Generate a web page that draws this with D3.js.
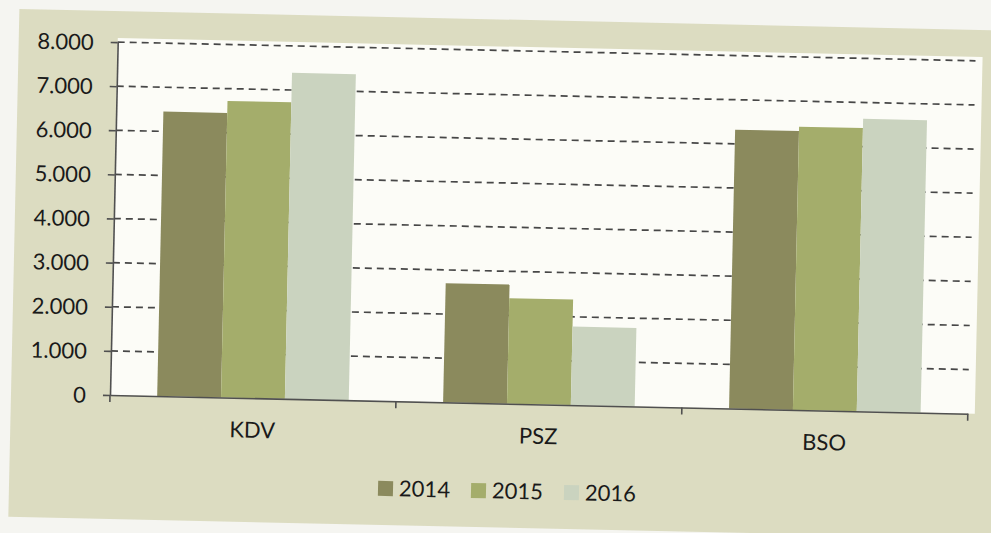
<!DOCTYPE html>
<html>
<head>
<meta charset="utf-8">
<script src="https://cdn.jsdelivr.net/npm/d3@7"></script>
<style>
  html, body { margin: 0; padding: 0; background: #f5f5f1; overflow: hidden; }
  svg { display: block; font-family: Lato, "Open Sans", sans-serif; }
</style>
</head>
<body>
<div class="graphHold"></div>
<script>
/*** DATA ***/
let categories = ['KDV', 'PSZ', 'BSO'];
let years = ['2014', '2015', '2016'];
let values2014 = [6450, 2700, 6320];
let values2015 = [6720, 2390, 6420];
let values2016 = [7390, 1780, 6630];
let yTicks = [0, 1000, 2000, 3000, 4000, 5000, 6000, 7000, 8000];
let colors = ['#8b8a5d', '#a4ad6b', '#cad3bf'];

let series = [values2014, values2015, values2016];

/*** GRAPH ***/
let width = 991,
    height = 533,
    x0 = 110,       /* axis origin */
    y0 = 395,
    plotW = 858,
    plotH = 353,
    tilt = 1.25;    /* the scan is slightly rotated */

let svg = d3.select('.graphHold').
append('svg').
attr('width', width).
attr('height', height);

let frame = svg.append('g').
attr('transform', 'rotate(' + tilt + ',' + x0 + ',' + y0 + ')');

/* beige panel and white plot area */
frame.append('rect').
attr('x', 11).attr('y', 11).
attr('width', 1020).attr('height', 508).
style('fill', '#dcdcc1');

frame.append('rect').
attr('x', x0).attr('y', y0 - plotH - 4).
attr('width', plotW + 7).attr('height', plotH + 4).
style('fill', '#fcfcf7');

/* scales */
let xScale = d3.scaleBand().
domain(categories).
range([x0, x0 + plotW]).
paddingInner(0.33).
paddingOuter(0.165);

let xSub = d3.scaleBand().
domain(years).
range([0, xScale.bandwidth()]);

let yScale = d3.scaleLinear().
domain([0, 8000]).
range([y0, y0 - plotH]);

let fmt = d3.formatLocale({decimal: ',', thousands: '.', grouping: [3], currency: ['', '']}).format(',d');

/* dashed gridlines */
frame.append('g').
selectAll('line').
data(yTicks.filter((d) => d > 0)).
enter().
append('line').
attr('x1', x0).
attr('x2', x0 + plotW).
attr('y1', (d) => yScale(d)).
attr('y2', (d) => yScale(d)).
style('stroke', '#474747').
style('stroke-width', 1.7).
style('stroke-dasharray', '7,5');

/* bars */
frame.append('g').
selectAll('g').
data(series).
enter().
append('g').
style('fill', (d, i) => colors[i]).
selectAll('rect').
data((d, i) => d.map((v, j) => ({cat: categories[j], year: years[i], value: v}))).
enter().
append('rect').
attr('x', (d) => xScale(d.cat) + xSub(d.year)).
attr('y', (d) => yScale(d.value)).
attr('width', xSub.bandwidth()).
attr('height', (d) => y0 - yScale(d.value));

/* Y axis */
let yAxis = d3.axisLeft(yScale).
tickValues(yTicks).
tickFormat(fmt).
tickSizeInner(7).
tickSizeOuter(0).
tickPadding(17);

let yAxisGroup = frame.append('g').
attr('transform', 'translate(' + x0 + ',0)').
call(yAxis);

/* X axis */
let xAxis = d3.axisBottom(xScale).
tickSize(0).
tickPadding(24);

let xAxisGroup = frame.append('g').
attr('transform', 'translate(0,' + y0 + ')').
call(xAxis);

/* band boundary ticks */
xAxisGroup.append('g').
selectAll('line').
data(categories.concat(['end'])).
enter().
append('line').
attr('x1', (d, i) => x0 + i * xScale.step()).
attr('x2', (d, i) => x0 + i * xScale.step()).
attr('y1', 0).
attr('y2', 7);

yAxisGroup.select('.domain').style('stroke', '#505050').style('stroke-width', 1.6);
xAxisGroup.select('.domain').style('stroke', '#505050').style('stroke-width', 1.6);
xAxisGroup.selectAll('line').style('stroke', '#505050').style('stroke-width', 1.6);
yAxisGroup.selectAll('.tick line').style('stroke', '#505050').style('stroke-width', 1.6);

frame.selectAll('.tick text').
style('font-size', '22px').
style('fill', '#1a1a1a').
style('font-family', 'Lato, "Open Sans", sans-serif');
yAxisGroup.selectAll('.tick text').attr('dy', '0.36em');

/* legend */
let legend = frame.append('g').
attr('transform', 'translate(380,475)');

let item = legend.selectAll('g').
data(years).
enter().
append('g').
attr('transform', (d, i) => 'translate(' + i * 93 + ',0)');

item.append('rect').
attr('width', 15).
attr('height', 15).
style('fill', (d, i) => colors[i]);

item.append('text').
attr('x', 21).
attr('y', 15).
text((d) => d).
style('font-size', '22px').
style('fill', '#1a1a1a');
</script>
</body>
</html>
